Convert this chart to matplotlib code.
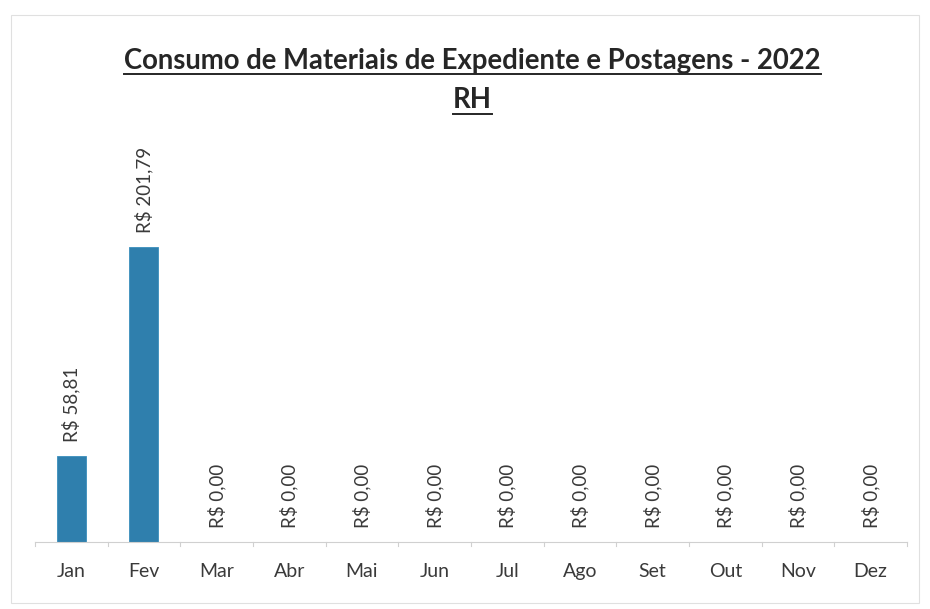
import matplotlib
matplotlib.use("Agg")
from matplotlib import pyplot as plt
from matplotlib.patches import Rectangle

months = ["Jan", "Fev", "Mar", "Abr", "Mai", "Jun", "Jul", "Ago", "Set", "Out", "Nov", "Dez"]
values = [58.81, 201.79, 0, 0, 0, 0, 0, 0, 0, 0, 0, 0]
labels = ["R$ 58,81", "R$ 201,79"] + ["R$ 0,00"] * 10

title1 = "Consumo de Materiais de Expediente e Postagens - 2022"
title2 = "RH"

plt.rcParams['font.family'] = ['Lato', 'DejaVu Sans']

fig = plt.figure(figsize=(9.3, 6.09), dpi=100)
fig.patch.set_facecolor("white")
ax = fig.add_axes([0.0376, 0.110, 0.9376, 0.660])

x = list(range(len(months)))
ax.bar(x, values, width=0.4, color="#2f7fad", edgecolor="#3a8fbd", linewidth=0.6)

for xi, v, lab in zip(x, values, labels):
    ax.annotate(lab, (xi, v), xytext=(0, 10), textcoords="offset points",
                rotation=90, ha="center", va="bottom", fontsize=13.5, color="#3a3a3a")

ax.set_xlim(-0.5, 11.5)
ax.set_ylim(0, 275)
ax.set_xticks(x)
ax.set_xticklabels(months, fontsize=14, color="#3a3a3a")
ax.set_yticks([])
for s in ["top", "right", "left"]:
    ax.spines[s].set_visible(False)
ax.spines["bottom"].set_color("#d0d0d0")
ax.tick_params(axis="x", length=0, pad=15)
# small separators between categories on the baseline
for b in [i - 0.5 for i in range(13)]:
    ax.plot([b, b], [0, -3], color="#d0d0d0", lw=0.8, clip_on=False)

# underlined title lines
t1 = fig.text(0.508, 0.887, title1, ha="center", va="baseline", fontsize=19.8,
              fontweight="bold", color="#262626")
t2 = fig.text(0.508, 0.822, title2, ha="center", va="baseline", fontsize=19.8,
              fontweight="bold", color="#262626")
fig.canvas.draw()
r = fig.canvas.get_renderer()
for t in (t1, t2):
    bb = t.get_window_extent(r).transformed(fig.transFigure.inverted())
    yb = t.get_position()[1] - 0.009
    fig.add_artist(plt.Line2D([bb.x0, bb.x1], [yb, yb], color="#262626", lw=1.4,
                              transform=fig.transFigure))

# faint frame of the chart area
fig.add_artist(Rectangle((0.012, 0.01), 0.976, 0.965, transform=fig.transFigure,
                         fill=False, edgecolor="#e0e0e0", lw=0.8))

fig.savefig("out.png", dpi=100, facecolor="white")
